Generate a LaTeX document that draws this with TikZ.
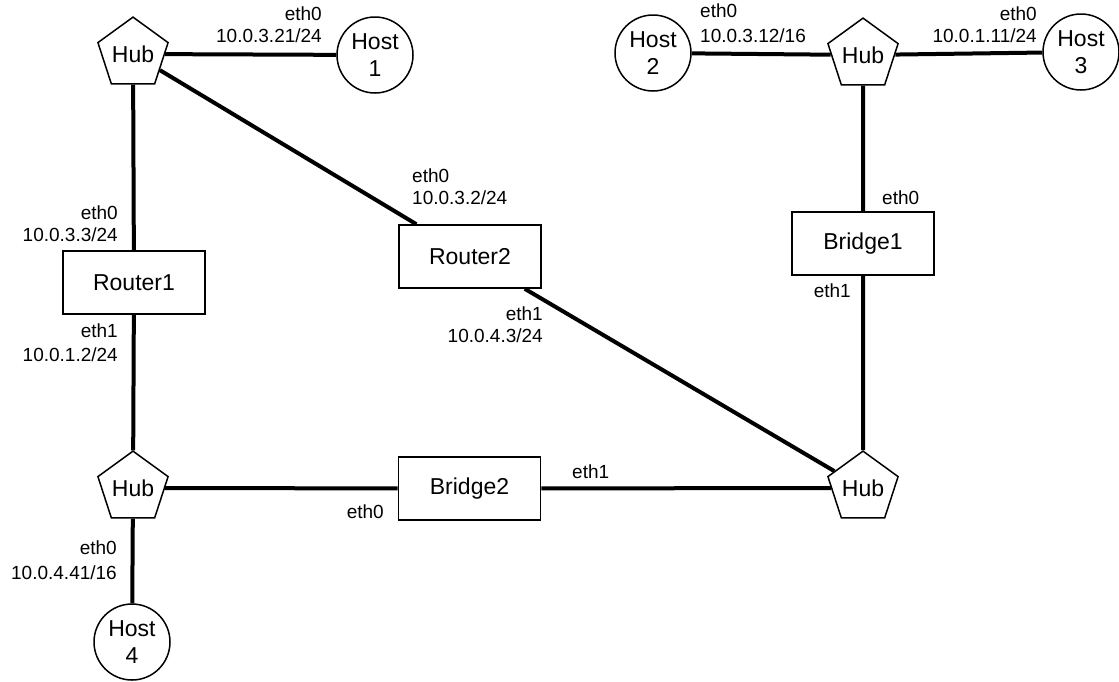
\documentclass[tikz,border=0pt]{standalone}
\usepackage{fontspec}
\setmainfont{Liberation Sans}
\usetikzlibrary{shapes.geometric}
\begin{document}
\begin{tikzpicture}[x=1pt,y=-1pt,
  hub/.style={regular polygon, regular polygon sides=5, draw, line width=1.5pt, minimum size=70pt, inner sep=0pt, font=\fontsize{23}{27}\selectfont},
  host/.style={circle, draw, line width=1.5pt, minimum size=76pt, inner sep=0pt, align=center, font=\fontsize{23}{27}\selectfont},
  dev/.style={rectangle, draw, line width=1.6pt, minimum width=142pt, minimum height=63pt, inner sep=0pt, font=\fontsize{23}{27}\selectfont},
  link/.style={line width=4pt},
  lbl/.style={inner sep=0pt, font=\fontsize{19}{22}\selectfont}
]
\useasboundingbox (0,0) rectangle (1119,681);

% devices
\node[hub] (hubTL) at (133,54) {Hub};
\node[hub] (hubTR) at (863,55) {Hub};
\node[hub] (hubBL) at (133,488) {Hub};
\node[hub] (hubBR) at (863,488) {Hub};
\node[host] (host1) at (375,55) {Host\\1};
\node[host] (host2) at (653,53) {Host\\2};
\node[host] (host3) at (1081,52) {Host\\3};
\node[host] (host4) at (132,642) {Host\\4};
\node[dev] (router1) at (134,282.5) {Router1};
\node[dev] (router2) at (470,256.5) {Router2};
\node[dev] (bridge1) at (863,243.5) {Bridge1};
\node[dev] (bridge2) at (469.5,488.5) {Bridge2};

% links
\draw[link] (hubTL) -- (host1);
\draw[link] (hubTL) -- (router1);
\draw[link] (hubTL) -- (router2);
\draw[link] (router1) -- (hubBL);
\draw[link] (hubBL) -- (bridge2);
\draw[link] (hubBL) -- (host4);
\draw[link] (bridge2) -- (hubBR);
\draw[link] (router2) -- (hubBR);
\draw[link] (bridge1) -- (hubBR);
\draw[link] (hubTR) -- (bridge1);
\draw[link] (host2) -- (hubTR);
\draw[link] (hubTR) -- (host3);

% interface labels
\node[lbl, align=right, anchor=south east] (l1) at (322,43) {eth0\\10.0.3.21/24};
\node[lbl, align=left, anchor=south west] (l2) at (700,43) {eth0\\[3pt]10.0.3.12/16};
\node[lbl, align=right, anchor=south east] (l3) at (1037,43) {eth0\\10.0.1.11/24};
\node[lbl, align=right, anchor=south east] (r1a) at (118,242) {eth0\\10.0.3.3/24};
\node[lbl, align=right, anchor=south east] (r1b) at (118,362) {eth1\\[2pt]10.0.1.2/24};
\node[lbl, align=left, anchor=south west] (r2a) at (412,205) {eth0\\10.0.3.2/24};
\node[lbl, align=right, anchor=south east] (r2b) at (543,343) {eth1\\10.0.4.3/24};
\node[lbl, anchor=base west] (b1a) at (882,204) {eth0};
\node[lbl, anchor=base east] (b1b) at (851,297) {eth1};
\node[lbl, anchor=base east] (b2a) at (384,518) {eth0};
\node[lbl, anchor=base west] (b2b) at (572,478) {eth1};
\node[lbl, align=right, anchor=south east] (l4) at (117,580) {eth0\\[3pt]10.0.4.41/16};
\end{tikzpicture}
\end{document}
